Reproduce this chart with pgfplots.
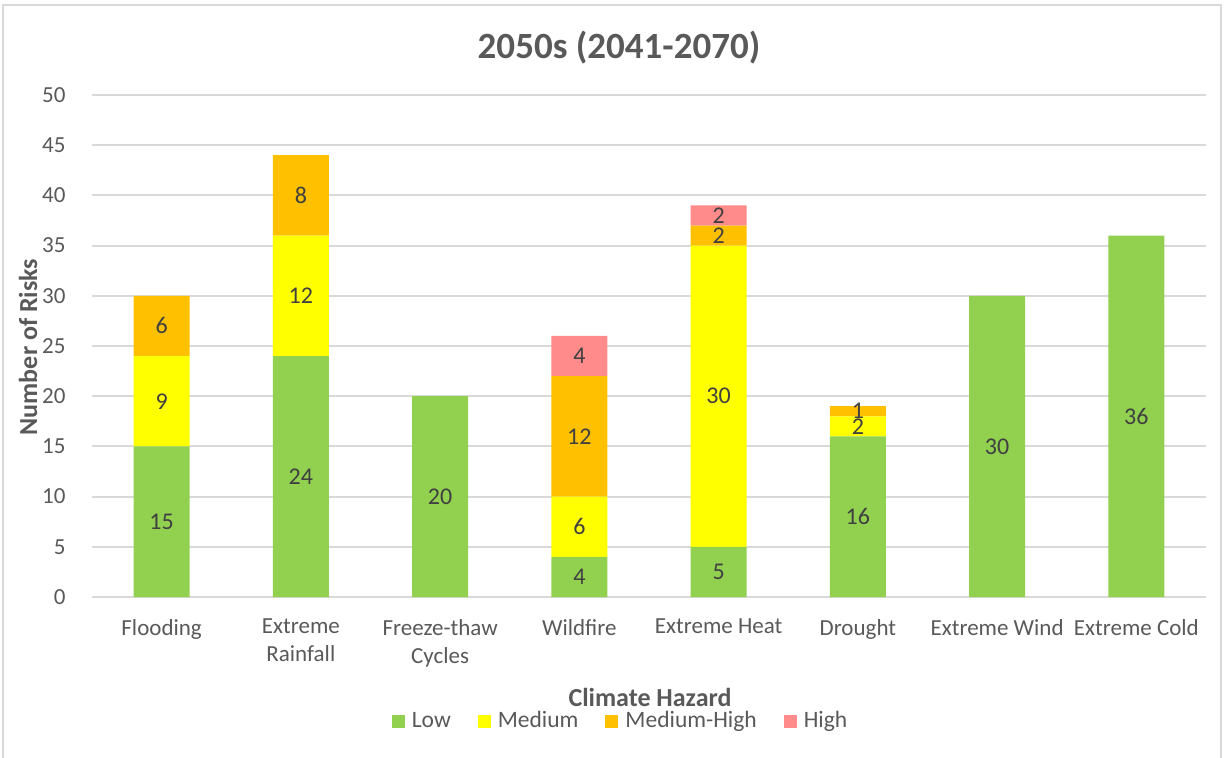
\documentclass[border=0pt]{standalone}
\usepackage{fontspec}
\setmainfont{Carlito}
\usepackage{pgfplots}
\usepackage{pgfplotstable}
\pgfplotsset{compat=1.18}
\definecolor{cLow}{HTML}{92D050}
\definecolor{cMed}{HTML}{FFFF00}
\definecolor{cMH}{HTML}{FFC000}
\definecolor{cHigh}{HTML}{FF8B8B}
\definecolor{txt}{HTML}{595959}
\definecolor{lbl}{HTML}{404040}
\definecolor{gridc}{HTML}{D9D9D9}

\pgfplotstableread{
x low med mh high
0 15 9 6 0
1 24 12 8 0
2 20 0 0 0
3 4 6 12 4
4 5 30 2 2
5 16 2 1 0
6 30 0 0 0
7 36 0 0 0
}\data

\pgfplotsset{common/.style={
  at={(46pt,80pt)}, anchor=south west,
  scale only axis, width=557pt, height=251pt,
  xmin=-0.5, xmax=7.5, ymin=0, ymax=50, clip=false,
  /pgf/number format/assume math mode=true}}

\begin{document}
\begin{tikzpicture}
\useasboundingbox (0,0) rectangle (613pt,378.5pt);
\draw[gridc, line width=0.6pt] (1.5pt,-5pt) -- (1.5pt,376pt) -- (610.5pt,376pt) -- (610.5pt,-5pt);
\node[font=\fontsize{18.5}{22}\selectfont\bfseries, text=txt] at (309.5pt,354.5pt) {2050s (2041-2070)};
\node[font=\fontsize{13}{15}\selectfont\bfseries, text=txt] at (325pt,30pt) {Climate Hazard};
\node[font=\fontsize{13}{15}\selectfont\bfseries, text=txt, rotate=90] at (14pt,205pt) {Number of Risks};
\begin{axis}[
  common,
  ybar stacked, bar width=28pt,
  ytick={0,5,...,50},
  xtick={0,...,7},
  xticklabels={Flooding, Extreme\\Rainfall, Freeze-thaw\\Cycles, Wildfire, Extreme Heat, Drought, Extreme Wind, Extreme Cold},
  axis line style={draw=none},
  major tick length=0pt,
  ymajorgrids, grid style={gridc, line width=1pt},
  ticklabel style={font=\fontsize{11.5}{14}\selectfont, text=txt},
  yticklabel style={anchor=east, xshift=-9.7pt},
  xticklabel style={align=center, anchor=north, yshift=-7.5pt},
  legend columns=4,
  legend style={at={(0.4767,-0.247)}, anchor=center, draw=none, fill=none,
    font=\fontsize{11.75}{14}\selectfont, text=txt,
    nodes={inner xsep=3.5pt},
    /tikz/every even column/.append style={column sep=10pt}},
  legend image code/.code={\fill[#1] (0pt,-3.25pt) rectangle (6.5pt,3.25pt);},
]
\addplot[fill=cLow, draw=none] table[x=x, y=low] {\data};
\addlegendentry{Low}
\addplot[fill=cMed, draw=none] table[x=x, y=med] {\data};
\addlegendentry{Medium}
\addplot[fill=cMH, draw=none] table[x=x, y=mh] {\data};
\addlegendentry{Medium-High}
\addplot[fill=cHigh, draw=none] table[x=x, y=high] {\data};
\addlegendentry{High}
\end{axis}
\begin{axis}[common, hide axis,
  lblstyle/.style={sharp plot, draw=none, mark=none,
  nodes near coords, point meta=explicit,
  every node near coord/.append style={anchor=center, font=\fontsize{12}{14}\selectfont, text=lbl, inner sep=0pt}}]
\addplot[lblstyle] table[x=x, y expr={\thisrow{low}/2}, meta=low] {\data};
\addplot[lblstyle] table[x=x, y expr={\thisrow{med}==0 ? nan : \thisrow{low}+\thisrow{med}/2}, meta=med] {\data};
\addplot[lblstyle] table[x=x, y expr={\thisrow{mh}==0 ? nan : \thisrow{low}+\thisrow{med}+\thisrow{mh}/2}, meta=mh] {\data};
\addplot[lblstyle] table[x=x, y expr={\thisrow{high}==0 ? nan : \thisrow{low}+\thisrow{med}+\thisrow{mh}+\thisrow{high}/2}, meta=high] {\data};
\end{axis}
\end{tikzpicture}
\end{document}
